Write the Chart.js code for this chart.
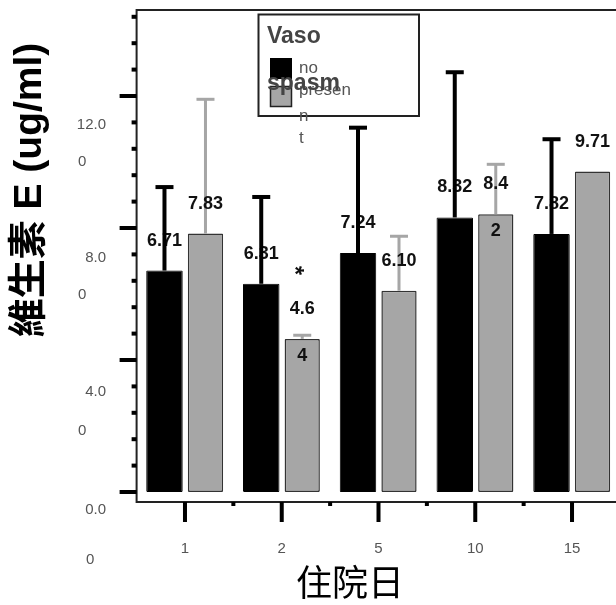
<!DOCTYPE html>
<html>
<head>
<meta charset="utf-8">
<script src="https://cdn.jsdelivr.net/npm/chart.js@4"></script>
<style>
  html, body { margin: 0; padding: 0; background: #fff; overflow: hidden; }
  canvas { display: block; }
</style>
</head>
<body>
<canvas id="myChart" width="640" height="605"></canvas>
<script>
// datos
const days = ['1', '2', '5', '10', '15']
const noVals = [6.71, 6.31, 7.24, 8.32, 7.82]
const presentVals = [7.83, 4.64, 6.10, 8.42, 9.71]
const noErr = [9.24, 8.94, 11.04, 12.72, 10.69]
const presentErr = [11.9, 4.75, 7.75, 9.93, null]
const noText = [['6.71'], ['6.31'], ['7.24'], ['8.32'], ['7.82']]
const presentText = [['7.83'], ['4.6', '4'], ['6.10'], ['8.4', '2'], ['9.71']]
const yMajor = [0, 4, 8, 12]
const yTickText = [['0.0', '0'], ['4.0', '0'], ['8.0', '0'], ['12.0', '0']]
const yTitle = '維生素 E (ug/ml)'
const xTitle = '住院日'
const legendTitle = ['Vaso', 'spasm']
const legendText = [['no'], ['presen', 'n', 't']]
const starMark = { cat: 1, value: 6.8, text: '*' }

const BLACK = '#000000'
const GRAY = '#a6a6a6'
const LATIN = '"Liberation Sans", Arial, sans-serif'
const CJK = '"Noto Sans CJK TC", "Noto Sans CJK SC", sans-serif'

function drawErr(ctx, chart, dsIndex, tops, color, lw) {
  let meta = chart.getDatasetMeta(dsIndex)
  let y = chart.scales.y
  ctx.fillStyle = color
  meta.data.forEach((bar, i) => {
    if (tops[i] == null) return
    let py = y.getPixelForValue(tops[i])
    ctx.fillRect(bar.x - lw / 2, py, lw, bar.y - py)
    ctx.fillRect(bar.x - 9, py - lw / 2, 18, lw)
  })
}

function drawLabels(ctx, chart, dsIndex, texts) {
  let meta = chart.getDatasetMeta(dsIndex)
  ctx.font = 'bold 18px ' + LATIN
  ctx.fillStyle = '#111'
  ctx.textAlign = 'center'
  ctx.textBaseline = 'middle'
  meta.data.forEach((bar, i) => {
    texts[i].forEach((t, k) => {
      ctx.fillText(t, bar.x, bar.y - 30 + k * 47)
    })
  })
}

const decor = {
  id: 'decor',
  beforeDatasetsDraw(chart) {
    const ctx = chart.ctx
    const ca = chart.chartArea
    const x = chart.scales.x
    const y = chart.scales.y
    ctx.save()
    // marco
    ctx.strokeStyle = '#222'
    ctx.lineWidth = 2
    ctx.strokeRect(ca.left, ca.top, ca.right - ca.left, ca.bottom - ca.top)
    // ticks eje y
    ctx.fillStyle = '#000'
    for (let i = 0; i * 0.8 <= y.max; i++) {
      let py = y.getPixelForValue(i * 0.8)
      if (i % 5 === 0) ctx.fillRect(ca.left - 17, py - 2, 17, 4)
      else ctx.fillRect(ca.left - 5, py - 2, 5, 4)
    }
    // ticks eje x
    for (let i = 0; i < days.length; i++) {
      let px = x.getPixelForValue(i)
      ctx.fillRect(px - 2, ca.bottom, 4, 20)
      if (i < days.length - 1) {
        let mx = (px + x.getPixelForValue(i + 1)) / 2
        ctx.fillRect(mx - 2, ca.bottom, 4, 4)
      }
    }
    // etiquetas eje y
    const dy = [[18, 68], [32, 71], [30, 67], [29, 66]]
    const x2 = [86, 78, 78, 78]
    ctx.font = '15px ' + LATIN
    ctx.fillStyle = '#555'
    ctx.textBaseline = 'middle'
    yMajor.forEach((v, i) => {
      let py = y.getPixelForValue(v)
      ctx.textAlign = 'right'
      ctx.fillText(yTickText[i][0], 106, py + dy[i][0])
      ctx.textAlign = 'left'
      ctx.fillText(yTickText[i][1], x2[i], py + dy[i][1])
    })
    // etiquetas eje x
    ctx.textAlign = 'center'
    days.forEach((d, i) => {
      ctx.fillText(d, x.getPixelForValue(i), 549)
    })
    // titulos
    ctx.fillStyle = '#000'
    ctx.font = '36px ' + CJK
    ctx.fillText(xTitle, 350, 582)
    ctx.save()
    ctx.translate(30, 190)
    ctx.rotate(-Math.PI / 2)
    ctx.font = 'bold 39px ' + LATIN + ', ' + CJK
    ctx.fillText(yTitle, 0, 0)
    ctx.restore()
    ctx.restore()
  },
  afterDatasetsDraw(chart) {
    const ctx = chart.ctx
    ctx.save()
    drawErr(ctx, chart, 1, presentErr, GRAY, 3)
    drawLabels(ctx, chart, 0, noText)
    drawLabels(ctx, chart, 1, presentText)
    drawErr(ctx, chart, 0, noErr, BLACK, 4)
    // asterisco
    let bar = chart.getDatasetMeta(1).data[starMark.cat]
    ctx.translate(bar.x - 6, chart.scales.y.getPixelForValue(starMark.value))
    ctx.rotate(Math.PI / 2)
    ctx.font = 'bold 23px ' + LATIN
    ctx.fillStyle = '#111'
    ctx.textAlign = 'center'
    ctx.textBaseline = 'middle'
    ctx.fillText(starMark.text, 3, 3)
    ctx.restore()
  },
  afterDraw(chart) {
    const ctx = chart.ctx
    ctx.save()
    // leyenda
    ctx.fillStyle = '#fff'
    ctx.fillRect(258.5, 14.5, 160.5, 101.5)
    ctx.strokeStyle = '#222'
    ctx.lineWidth = 2
    ctx.strokeRect(258.5, 14.5, 160.5, 101.5)
    let sets = chart.data.datasets
    ctx.fillStyle = sets[0].backgroundColor
    ctx.fillRect(270, 58, 22, 21)
    ctx.fillStyle = sets[1].backgroundColor
    ctx.fillRect(270, 86, 22, 21)
    ctx.strokeStyle = '#222'
    ctx.lineWidth = 1.5
    ctx.strokeRect(270.5, 86.5, 21, 20)
    ctx.font = '17px ' + LATIN
    ctx.fillStyle = '#555'
    ctx.textAlign = 'left'
    ctx.textBaseline = 'alphabetic'
    ctx.fillText(legendText[0][0], 299, 73)
    const base = [95, 121, 143]
    legendText[1].forEach((t, k) => ctx.fillText(t, 299, base[k]))
    ctx.font = 'bold 23px ' + LATIN
    ctx.fillStyle = '#444'
    ctx.fillText(legendTitle[0], 267, 43)
    ctx.fillText(legendTitle[1], 267, 90)
    ctx.restore()
  }
}

const ctx = document.getElementById('myChart').getContext('2d')
const myChart = new Chart(ctx, {
  type: 'bar',
  data: {
    labels: days,
    datasets: [
      {
        label: 'no',
        data: noVals,
        backgroundColor: BLACK,
        borderColor: BLACK,
        borderWidth: 1,
        borderSkipped: false,
        borderRadius: 1,
        categoryPercentage: 0.8475,
        barPercentage: 0.89
      },
      {
        label: 'present',
        data: presentVals,
        backgroundColor: GRAY,
        borderColor: '#333',
        borderWidth: 1.5,
        borderSkipped: false,
        borderRadius: 1,
        categoryPercentage: 0.8475,
        barPercentage: 0.86
      }
    ]
  },
  options: {
    responsive: false,
    animation: false,
    devicePixelRatio: 1,
    layout: { padding: { left: 136.6, top: 10, right: 19.6, bottom: 103 } },
    plugins: { legend: { display: false }, tooltip: { enabled: false } },
    scales: {
      x: { display: false, offset: true },
      y: { display: false, min: -0.303, max: 14.606 }
    }
  },
  plugins: [decor]
})
</script>
</body>
</html>
